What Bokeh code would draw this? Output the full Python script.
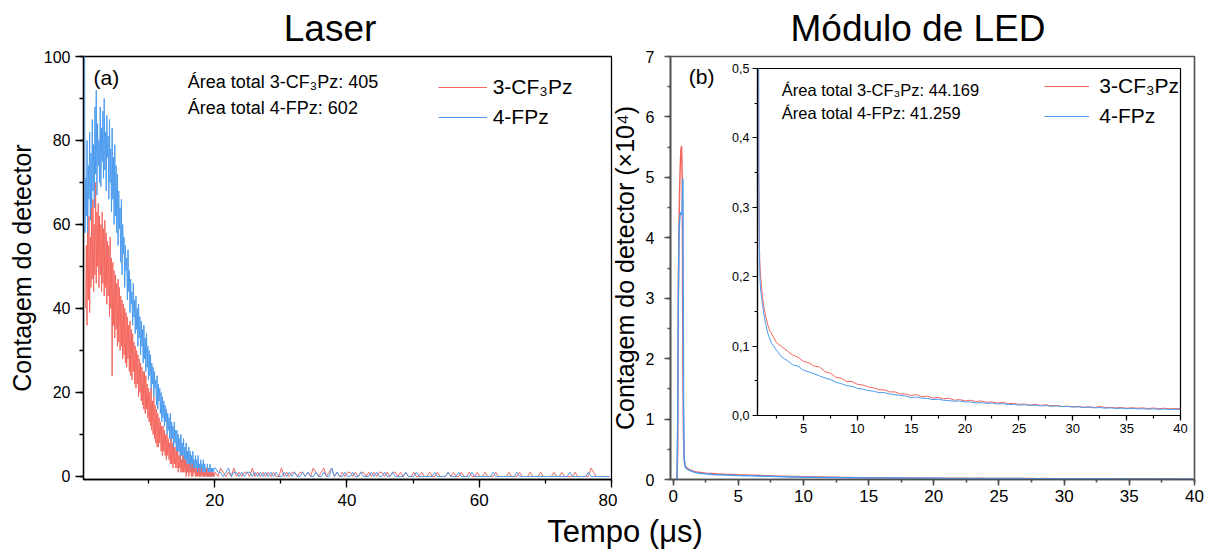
import numpy as np
from bokeh.plotting import figure
from bokeh.layouts import row, column
from bokeh.models import (Label, Legend, LegendItem, SingleIntervalTicker,
                          CustomJSTickFormatter)
from bokeh.embed import file_html
from bokeh.resources import INLINE

FONT = "Liberation Sans"
RED = "#F4675F"
BLUE = "#4C9BEE"

# ---------------- data ----------------
series_names = ["3-CF\u2083Pz", "4-FPz"]
laser_areas = ["405", "602"]
led_areas = ["44.169", "41.259"]

# Laser (counts) - time in microseconds
laser_t_head = np.round(np.arange(0.3, 19.95, 0.1), 2)     # 0.3 ... 19.9
laser_t_tail = np.round(np.arange(20.1, 79.9, 0.4), 2)     # 20.1 ... 79.7

laser_blue_head = [130, 58, 71, 62, 80, 57, 74, 66, 82, 61,
                   77, 63, 85, 68, 79, 64, 88, 72, 92, 67,
                   84, 74, 80, 70, 88, 69, 83, 75, 87, 71,
                   90, 73, 82, 68, 86, 76, 81, 66, 85, 70,
                   78, 63, 83, 66, 76, 60, 79, 62, 74, 58,
                   72, 55, 68, 59, 64, 51, 66, 48, 60, 53,
                   57, 45, 55, 49, 52, 42, 54, 44, 49, 39,
                   47, 41, 44, 36, 46, 38, 42, 34, 43, 35,
                   40, 31, 41, 33, 38, 29, 37, 31, 35, 27,
                   36, 28, 33, 25, 34, 26, 31, 23, 30, 24,
                   29, 20, 27, 22, 26, 19, 25, 21, 23, 17,
                   24, 16, 22, 18, 21, 15, 20, 13, 19, 14,
                   18, 12, 17, 13, 16, 10, 15, 11, 14, 9,
                   15, 8, 13, 9, 12, 7, 13, 8, 11, 6,
                   11, 5, 10, 6, 9, 4, 10, 5, 8, 3,
                   9, 4, 7, 3, 8, 2, 6, 3, 7, 2,
                   6, 2, 5, 1, 6, 2, 4, 1, 5, 2,
                   4, 1, 5, 1, 3, 0, 4, 1, 3, 1,
                   4, 0, 3, 1, 2, 0, 3, 1, 2, 0,
                   3, 0, 2, 1, 2, 0, 2]
# red starts at t = 0.5
laser_red_head = [40, 55, 36, 58, 42, 62, 39, 57, 45, 64,
                  47, 66, 44, 60, 48, 70, 46, 63, 50, 65,
                  45, 62, 48, 60, 44, 63, 46, 59, 43, 61,
                  45, 58, 41, 56, 43, 55, 38, 57, 40, 52,
                  24, 51, 36, 49, 33, 48, 35, 46, 31, 47,
                  32, 45, 30, 43, 31, 42, 28, 41, 29, 40,
                  27, 39, 26, 38, 28, 36, 25, 37, 24, 35,
                  23, 34, 25, 32, 22, 31, 21, 30, 22, 29,
                  19, 28, 20, 27, 18, 26, 17, 25, 16, 25,
                  15, 24, 16, 22, 14, 21, 13, 20, 12, 21,
                  11, 18, 10, 19, 9, 17, 8, 16, 7, 15,
                  7, 14, 8, 13, 6, 12, 5, 12, 6, 11,
                  5, 10, 4, 10, 5, 9, 4, 8, 3, 9,
                  3, 8, 2, 7, 3, 7, 2, 6, 2, 6,
                  1, 5, 2, 5, 1, 4, 1, 5, 1, 4,
                  1, 4, 0, 3, 1, 3, 0, 3, 1, 2,
                  0, 3, 0, 2, 1, 2, 0, 2, 0, 1,
                  0, 2, 0, 1, 0, 2, 0, 1, 0, 1,
                  0, 1, 0, 2, 0, 1, 0, 1, 0, 1,
                  0, 1, 0, 1, 0]
laser_red_tail = [1, 0, 2, 1, 0, 1, 0, 2, 0, 1,
                  0, 1, 1, 0, 2, 0, 1, 0, 1, 0,
                  1, 0, 1, 0, 0, 2, 0, 1, 0, 1,
                  1, 0, 1, 1, 0, 1, 0, 2, 1, 0,
                  1, 2, 0, 1, 2, 0, 1, 0, 1, 0,
                  1, 1, 0, 1, 0, 1, 1, 0, 1, 0,
                  1, 0, 1, 1, 0, 1, 0, 1, 1, 0,
                  1, 0, 1, 0, 0, 1, 0, 0, 1, 0,
                  0, 1, 0, 0, 1, 0, 0, 0, 1, 0,
                  1, 0, 0, 1, 0, 0, 1, 0, 0, 1,
                  0, 0, 1, 0, 0, 0, 1, 0, 0, 0,
                  0, 1, 0, 0, 0, 1, 0, 0, 0, 1,
                  0, 0, 0, 1, 0, 0, 0, 0, 1, 0,
                  0, 1, 0, 0, 0, 0, 1, 0, 0, 0,
                  0, 0, 2, 1, 0, 0, 0, 0, 0, 0]
laser_blue_tail = [2, 1, 1, 0, 1, 2, 0, 1, 1, 0,
                   1, 0, 1, 1, 0, 1, 0, 1, 0, 1,
                   0, 1, 0, 1, 0, 0, 1, 0, 1, 0,
                   1, 0, 0, 1, 0, 1, 0, 0, 1, 0,
                   0, 1, 0, 0, 2, 0, 1, 0, 0, 1,
                   0, 0, 1, 0, 0, 1, 0, 0, 0, 1,
                   0, 1, 0, 0, 1, 0, 0, 1, 0, 0,
                   0, 0, 1, 0, 0, 0, 1, 0, 0, 0,
                   0, 0, 0, 1, 0, 0, 0, 0, 1, 0,
                   0, 0, 1, 0, 0, 0, 0, 1, 0, 0,
                   0, 0, 0, 0, 0, 1, 0, 0, 0, 0,
                   0, 0, 0, 0, 1, 0, 0, 0, 0, 0,
                   0, 0, 0, 0, 0, 0, 0, 0, 0, 0,
                   0, 0, 0, 0, 1, 0, 0, 0, 0, 0,
                   0, 1, 0, 0, 0, 0, 0, 0, 0, 0]

# LED module (counts x 10^4)
led_t_head = [0.0, 0.2, 0.3, 0.35, 0.4, 0.45, 0.5, 0.55, 0.6, 0.65, 0.7, 0.75,
              0.8, 0.85, 0.9, 0.95, 1.0, 1.1, 1.2, 1.3, 1.4, 1.5, 1.6, 1.7, 1.8, 1.9]
led_t_tail = np.round(np.arange(2.0, 40.01, 0.5), 2)       # 2.0 ... 40.0

led_red_head = [0, 0, 0, 0.5, 3.0, 4.2, 4.8, 5.2, 5.45, 5.52, 5.0, 2.0,
                0.7, 0.35, 0.25, 0.22, 0.205, 0.185, 0.170, 0.158, 0.150, 0.142,
                0.136, 0.130, 0.125, 0.121]
led_red_tail = [0.119, 0.105, 0.099, 0.093, 0.087, 0.084, 0.078, 0.076, 0.071, 0.070,
                0.063, 0.061, 0.055, 0.054, 0.049, 0.049,
                0.045, 0.044, 0.041, 0.040, 0.037, 0.037, 0.034, 0.034, 0.031, 0.031,
                0.029, 0.030, 0.027, 0.028, 0.025, 0.026, 0.024, 0.025, 0.022, 0.023,
                0.021, 0.022, 0.020, 0.021, 0.019, 0.0195, 0.018, 0.019, 0.017, 0.0175,
                0.016, 0.0165, 0.015, 0.016, 0.0145, 0.0155, 0.014, 0.0145, 0.013, 0.0135,
                0.0125, 0.013, 0.012, 0.0125, 0.0115, 0.013, 0.0115, 0.0118, 0.011, 0.0115,
                0.0105, 0.0112, 0.0105, 0.011, 0.010, 0.0108, 0.0098, 0.0105, 0.0097, 0.010,
                0.0102]
led_blue_head = [0, 0, 0, 1.0, 3.0, 4.0, 4.3, 4.4, 4.42, 4.38, 4.45, 4.98,
                 1.2, 0.35, 0.24, 0.20, 0.185, 0.171, 0.160, 0.148, 0.139, 0.132,
                 0.124, 0.118, 0.113, 0.109]
led_blue_tail = [0.105, 0.094, 0.084, 0.079, 0.073, 0.071, 0.065, 0.063, 0.060, 0.057,
                 0.054, 0.052, 0.048, 0.046, 0.043, 0.042,
                 0.039, 0.038, 0.036, 0.035, 0.033, 0.033, 0.031, 0.030, 0.029, 0.028,
                 0.026, 0.0265, 0.025, 0.0245, 0.023, 0.0235, 0.022, 0.0215, 0.0205, 0.021,
                 0.0195, 0.0195, 0.018, 0.0185, 0.0175, 0.018, 0.0165, 0.017, 0.016, 0.0158,
                 0.015, 0.0155, 0.0145, 0.015, 0.014, 0.0142, 0.0132, 0.0138, 0.0128, 0.013,
                 0.0122, 0.0125, 0.0115, 0.012, 0.011, 0.0115, 0.0105, 0.011, 0.0102, 0.0105,
                 0.0098, 0.0102, 0.0095, 0.0098, 0.0092, 0.0095, 0.0089, 0.0092, 0.0087, 0.009,
                 0.0087]

led_t = np.concatenate([led_t_head, led_t_tail])
led_red = np.array(led_red_head + led_red_tail, dtype=float)
led_blue = np.array(led_blue_head + led_blue_tail, dtype=float)


def style(p, color, width, maj_out, min_out, tick_font_x, tick_font_y,
          std_x, std_y):
    for ax in (p.xaxis[0], p.yaxis[0]):
        ax.axis_line_color = color
        ax.axis_line_width = width
        ax.major_tick_line_color = color
        ax.minor_tick_line_color = color
        ax.major_tick_line_width = width
        ax.minor_tick_line_width = width
        ax.major_tick_in = 0
        ax.minor_tick_in = 0
        ax.major_tick_out = maj_out
        ax.minor_tick_out = min_out
        ax.major_label_text_font = FONT
        ax.major_label_text_color = "black"
        ax.axis_label_text_font = FONT
        ax.axis_label_text_font_style = "normal"
        ax.axis_label_text_color = "black"
    p.xaxis[0].major_label_text_font_size = tick_font_x
    p.yaxis[0].major_label_text_font_size = tick_font_y
    p.xaxis[0].major_label_standoff = std_x
    p.yaxis[0].major_label_standoff = std_y
    p.xgrid.visible = False
    p.ygrid.visible = False
    p.outline_line_color = color
    p.outline_line_width = width


def lab(p, x, y, text, size, align="left"):
    # y is the vertical middle of the text
    p.add_layout(Label(x=x, y=y, text=text, text_font=FONT,
                       text_font_size=f"{size}px", text_color="black",
                       text_align=align, text_baseline="middle"))


def strip(width, height):
    s = figure(width=width, height=height, x_range=(0, width), y_range=(0, height),
               output_backend="svg", toolbar_location=None,
               x_axis_location=None, y_axis_location=None,
               min_border_left=0, min_border_right=0, min_border_top=0,
               min_border_bottom=0, border_fill_alpha=0, background_fill_alpha=0,
               outline_line_color=None)
    s.grid.visible = False
    return s


def legend(renderers, loc, glyph_w, standoff):
    return Legend(items=[LegendItem(label=series_names[0], renderers=[renderers[0]]),
                         LegendItem(label=series_names[1], renderers=[renderers[1]])],
                  location=loc, glyph_width=glyph_w, glyph_height=24,
                  label_height=24, spacing=6, padding=0, margin=0,
                  border_line_color=None, background_fill_alpha=0,
                  label_text_font=FONT, label_text_font_size="21px",
                  label_text_color="black", label_standoff=standoff)


# ---------------- titles strip ----------------
pT = strip(1196, 56)
lab(pT, 321.5, 28.1, "Laser", 37, "center")
lab(pT, 909.5, 28.1, "M\u00f3dulo de LED", 37, "center")

# ---------------- left panel: Laser ----------------
pL = figure(width=614, height=467, x_range=(0.17, 80), y_range=(-0.72, 100),
            output_backend="svg", toolbar_location=None,
            min_border_left=80, min_border_right=6, min_border_top=10,
            min_border_bottom=34, border_fill_alpha=0)
style(pL, "black", 1.3, 8, 4, "17px", "16px", 6, 5)
pL.xaxis.ticker = SingleIntervalTicker(interval=20, num_minor_ticks=2)
pL.yaxis.ticker = SingleIntervalTicker(interval=20, num_minor_ticks=2)
pL.yaxis.axis_label = "Contagem do detector"
pL.yaxis.axis_label_text_font_size = "25px"
pL.yaxis.axis_label_standoff = 5

bL = pL.line(laser_t_head, laser_blue_head, color=BLUE, line_width=1)
rL = pL.line(np.concatenate([laser_t_head[2:], laser_t_tail]),
             laser_red_head + laser_red_tail, color=RED, line_width=1)
pL.line(np.concatenate([laser_t_head[-1:], laser_t_tail]),
        laser_blue_head[-1:] + laser_blue_tail, color=BLUE, line_width=1)

lab(pL, 1.68, 95.0, "(a)", 21)
lab(pL, 15.94, 93.92, "\u00c1rea total " + series_names[0] + ": " + laser_areas[0], 18)
lab(pL, 15.94, 87.66, "\u00c1rea total " + series_names[1] + ": " + laser_areas[1], 18)

pL.add_layout(legend([rL, bL], (354.7, 350.2), 49, 6))
pL.margin = (0, 0, 0, -5)

# ---------------- right panel: LED module ----------------
GREY = "#505050"
pR = figure(width=614, height=467, x_range=(-0.2, 40), y_range=(0, 7),
            output_backend="svg", toolbar_location=None,
            min_border_left=80, min_border_right=10, min_border_top=10,
            min_border_bottom=34, border_fill_alpha=0)
style(pR, GREY, 1.6, 6, 3, "17px", "16px", 4, 10)
pR.xaxis.ticker = SingleIntervalTicker(interval=5, num_minor_ticks=2)
pR.yaxis.ticker = SingleIntervalTicker(interval=1, num_minor_ticks=2)
pR.yaxis.axis_label = "Contagem do detector (\u00d710\u2074)"
pR.yaxis.axis_label_text_font_size = "25px"
pR.yaxis.axis_label_standoff = 4

pR.line(led_t, led_red, color=RED, line_width=1.5)
pR.line(led_t, led_blue, color=BLUE, line_width=1.5)

lab(pR, 1.20, 6.669, "(b)", 21)

# ---------------- inset ----------------
pI = figure(width=513, height=385, x_range=(0.73, 40), y_range=(0, 0.5),
            output_backend="svg", toolbar_location=None,
            min_border_left=75, min_border_right=7, min_border_top=8,
            min_border_bottom=30, border_fill_alpha=0,
            background_fill_color="white")
style(pI, "black", 1.2, 5, 3, "13px", "12.5px", 3, 3)
pI.xaxis.ticker = SingleIntervalTicker(interval=5, num_minor_ticks=2)
pI.yaxis.ticker = SingleIntervalTicker(interval=0.1, num_minor_ticks=2)
pI.yaxis.formatter = CustomJSTickFormatter(
    code="return tick.toFixed(1).replace('.', ',');")

rI = pI.line(led_t, led_red, color=RED, line_width=1)
bI = pI.line(led_t, led_blue, color=BLUE, line_width=1)

lab(pI, 2.98, 0.4693, "\u00c1rea total " + series_names[0] + ": " + led_areas[0], 16.5)
lab(pI, 2.98, 0.4357, "\u00c1rea total " + series_names[1] + ": " + led_areas[1], 16.5)

pI.add_layout(legend([rI, bI], (287.3, 286.7), 45, 10))

pI.margin = (-453, 0, 68, 87)
right_col = column(pR, pI, margin=(0, 0, 0, -27))

# ---------------- shared x label ----------------
pB = strip(1196, 36)
lab(pB, 616.5, 18.2, "Tempo (\u03bcs)", 31, "center")

panels = row(pL, right_col, margin=(-10, 0, 0, 0))
layout = column(pT, panels, pB, margin=(0, 0, 0, 8))

open("out.html", "w").write(file_html(layout, INLINE, "Contagem do detector"))
